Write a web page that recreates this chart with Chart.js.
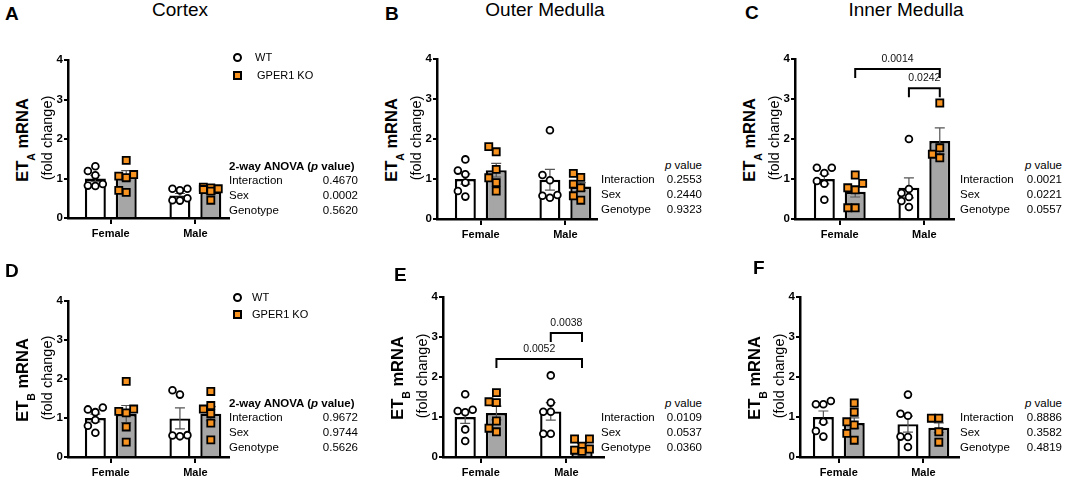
<!DOCTYPE html>
<html><head><meta charset="utf-8">
<script src="https://cdn.jsdelivr.net/npm/chart.js@4/dist/chart.umd.min.js"></script>
<style>
html,body{margin:0;padding:0;background:#fff;}
#fig{position:relative;width:1065px;height:481px;overflow:hidden;font-family:"Liberation Sans",Arial,Helvetica,sans-serif;color:#000;}
#fig canvas{position:absolute;z-index:1;}
.t{position:absolute;white-space:nowrap;line-height:1;z-index:2;color:#000;}
.mk{position:absolute;box-sizing:border-box;border:2px solid #000;z-index:2;}
</style></head><body><div id="fig"></div>
<script>
// ---------- data ----------
const groups = ['Female', 'Male'];
const seriesNames = ['WT', 'GPER1 KO'];
const yTicks = [0, 1, 2, 3, 4];
const anovaTerms = ['Interaction', 'Sex', 'Genotype'];

// A – Cortex, ETA
const A_wtMean = [1.00, 0.57], A_wtSem = [0.08, 0.05];
const A_koMean = [1.08, 0.66], A_koSem = [0.12, 0.06];
const A_wtFemale = [1.31, 1.19, 1.08, 0.81, 0.86, 0.82];
const A_wtMale   = [0.74, 0.74, 0.70, 0.44, 0.45, 0.50];
const A_koFemale = [1.46, 1.10, 1.06, 1.02, 0.65, 0.70];
const A_koMale   = [0.78, 0.76, 0.72, 0.68, 0.45, 0.74];
const A_p = ['0.4670', '0.0002', '0.5620'];

// B – Outer Medulla, ETA
const B_wtMean = [1.00, 0.98], B_wtSem = [0.13, 0.26];
const B_koMean = [1.22, 0.81], B_koSem = [0.17, 0.10];
const B_wtFemale = [1.21, 1.49, 1.12, 0.56, 0.91, 0.70];
const B_wtMale   = [2.22, 1.10, 0.97, 0.53, 0.60, 0.58];
const B_koFemale = [1.68, 1.24, 1.81, 1.03, 0.70, 0.91];
const B_koMale   = [1.04, 1.14, 0.78, 0.87, 0.47, 0.58];
const B_p = ['0.2553', '0.2440', '0.9323'];

// C – Inner Medulla, ETA
const C_wtMean = [1.00, 0.78], C_wtSem = [0.12, 0.25];
const C_koMean = [0.68, 1.95], C_koSem = [0.13, 0.33];
const C_wtFemale = [1.28, 1.15, 1.28, 0.95, 0.48, 0.88];
const C_wtMale   = [2.00, 0.75, 0.65, 0.55, 0.30, 0.45];
const C_koFemale = [1.10, 0.89, 0.73, 0.78, 0.28, 0.28];
const C_koMale   = [2.90, 1.78, 1.62, 1.53];
const C_p = ['0.0021', '0.0221', '0.0557'];
const C_brackets = [
  {a: [1, 0], b: [1, 1], y: 3.75, label: '0.0014'},
  {a: [0, 1], b: [1, 1], y: 3.27, label: '0.0242'}
];

// D – Cortex, ETB
const D_wtMean = [1.00, 0.99], D_wtSem = [0.10, 0.27];
const D_koMean = [1.10, 1.11], D_koSem = [0.22, 0.18];
const D_wtFemale = [1.27, 1.15, 1.22, 0.95, 0.80, 0.62];
const D_wtMale   = [1.71, 1.60, 0.55, 0.53, 0.56];
const D_koFemale = [1.94, 1.17, 1.23, 1.13, 0.77, 0.38];
const D_koMale   = [1.68, 1.32, 1.23, 1.11, 0.87, 0.44];
const D_p = ['0.9672', '0.9744', '0.5626'];

// E – Outer Medulla, ETB
const E_wtMean = [1.00, 1.14], E_wtSem = [0.16, 0.22];
const E_koMean = [1.10, 0.28], E_koSem = [0.17, 0.06];
const E_wtFemale = [1.57, 1.15, 1.18, 1.12, 0.69, 0.40];
const E_wtMale   = [2.04, 1.36, 1.13, 1.13, 0.58, 0.58];
const E_koFemale = [1.61, 1.38, 1.36, 0.90, 0.63, 0.72];
const E_koMale   = [0.45, 0.45, 0.27, 0.17, 0.20, 0.14];
const E_p = ['0.0109', '0.0537', '0.0360'];
const E_brackets = [
  {a: [1, 0], b: [1, 1], y: 2.45, label: '0.0052'},
  {a: [0, 1], b: [1, 1], y: 3.10, label: '0.0038'}
];

// F – Inner Medulla, ETB
const F_wtMean = [1.00, 0.82], F_wtSem = [0.15, 0.20];
const F_koMean = [0.85, 0.73], F_koSem = [0.13, 0.12];
const F_wtFemale = [1.32, 1.32, 1.40, 0.88, 0.51, 0.65];
const F_wtMale   = [1.56, 1.08, 1.03, 0.51, 0.50, 0.25];
const F_koFemale = [1.35, 1.12, 0.80, 0.88, 0.59, 0.42];
const F_koMale   = [0.97, 0.97, 0.63, 0.37];
const F_p = ['0.8886', '0.3582', '0.4819'];

// ---------- styles / layout ----------
const FF = '"Liberation Sans", Arial, Helvetica, sans-serif';
const ORANGE = '#f7931e';
const KO_FILL = '#a6a6a6';
const CAT_PCT = 0.73, BAR_PCT = 0.68;

const panels = [
  {letter:'A', title:'Cortex', sub:'A', means:[A_wtMean,A_koMean], sems:[A_wtSem,A_koSem],
   pts:[[A_wtFemale,A_wtMale],[A_koFemale,A_koMale]], p:A_p, brackets:[], legend:true, tableKind:'anova',
   g:{axisX:68,f:111,m:196,end:230,top:60,bottom:218}, letterPos:[5,13.5], titlePos:[180,9.5],
   table:{left:229,right:358,y:166}, legendPos:{x:237,y1:57,y2:75,t1:255,t2:257}},
  {letter:'B', title:'Outer Medulla', sub:'A', means:[B_wtMean,B_koMean], sems:[B_wtSem,B_koSem],
   pts:[[B_wtFemale,B_wtMale],[B_koFemale,B_koMale]], p:B_p, brackets:[], tableKind:'p',
   g:{axisX:437,f:481,m:566,end:598,top:59,bottom:219}, letterPos:[385,13.5], titlePos:[545,9.5],
   table:{left:601,right:702,y:165}},
  {letter:'C', title:'Inner Medulla', sub:'A', means:[C_wtMean,C_koMean], sems:[C_wtSem,C_koSem],
   pts:[[C_wtFemale,C_wtMale],[C_koFemale,C_koMale]], p:C_p, brackets:C_brackets, tableKind:'p',
   g:{axisX:795,f:840,m:925,end:955,top:59,bottom:219}, letterPos:[745,13], titlePos:[906,9.5],
   table:{left:960,right:1062,y:165}},
  {letter:'D', sub:'B', means:[D_wtMean,D_koMean], sems:[D_wtSem,D_koSem],
   pts:[[D_wtFemale,D_wtMale],[D_koFemale,D_koMale]], p:D_p, brackets:[], legend:true, tableKind:'anova',
   g:{axisX:68,f:111,m:196,end:230,top:301,bottom:457}, letterPos:[5,271],
   table:{left:229,right:358,y:403}, legendPos:{x:237,y1:297,y2:314,t1:252,t2:252}},
  {letter:'E', sub:'B', means:[E_wtMean,E_koMean], sems:[E_wtSem,E_koSem],
   pts:[[E_wtFemale,E_wtMale],[E_koFemale,E_koMale]], p:E_p, brackets:E_brackets, tableKind:'p',
   g:{axisX:443,f:481,m:567,end:605,top:297,bottom:457}, letterPos:[394,275],
   table:{left:601,right:702,y:403}},
  {letter:'F', sub:'B', means:[F_wtMean,F_koMean], sems:[F_wtSem,F_koSem],
   pts:[[F_wtFemale,F_wtMale],[F_koFemale,F_koMale]], p:F_p, brackets:[], tableKind:'p',
   g:{axisX:800,f:839,m:924,end:960,top:297,bottom:457}, letterPos:[753,268],
   table:{left:960,right:1062,y:403}}
];

const fig = document.getElementById('fig');

function txt(html, x, y, font, align, rot) {
  const d = document.createElement('div');
  d.className = 't';
  d.innerHTML = html;
  d.style.left = x + 'px';
  d.style.top = y + 'px';
  d.style.font = font;
  const ax = align === 'center' ? '-50%' : (align === 'right' ? '-100%' : '0');
  d.style.transform = 'translate(' + ax + ',-50%)' + (rot ? ' rotate(-90deg)' : '');
  fig.appendChild(d);
  return d;
}
function marker(x, y, kind) {
  const d = document.createElement('div');
  d.className = 'mk';
  const s = 9;
  d.style.width = s + 'px'; d.style.height = s + 'px';
  d.style.left = (x - s / 2) + 'px'; d.style.top = (y - s / 2) + 'px';
  if (kind === 'circle') { d.style.borderRadius = '50%'; d.style.background = '#fff'; }
  else { d.style.background = ORANGE; }
  fig.appendChild(d);
}

// compact beeswarm: three columns (left / centre / right) inside the bar
function swarm(vals, pxPerY, step) {
  const order = vals.map((v, i) => i).sort((a, b) => vals[a] - vals[b]);
  const placed = [], off = new Array(vals.length).fill(0);
  const cands = [0, -1, 1];
  order.forEach(i => {
    const y = vals[i] * pxPerY;
    let best = 0, bestD = -1;
    for (const k of cands) {
      const x = k * step;
      const d = placed.length ? Math.min(...placed.map(q => Math.hypot(q.x - x, q.y - y))) : 1e9;
      if (d >= step - 0.01) { best = x; bestD = 1e9; break; }
      if (d > bestD) { bestD = d; best = x; }
    }
    off[i] = best; placed.push({x: best, y});
  });
  return off;
}

const errorBarPlugin = {
  id: 'errorBars',
  afterDatasetDraw(chart, args) {
    const ds = chart.data.datasets[args.index];
    if (!ds.errors) return;
    const ys = chart.scales.y, ctx = chart.ctx;
    ctx.save();
    ctx.strokeStyle = '#555';
    ctx.lineWidth = 1.2;
    args.meta.data.forEach((bar, i) => {
      const m = ds.data[i].y, e = ds.errors[i];
      const yt = ys.getPixelForValue(m + e), yb = ys.getPixelForValue(m - e);
      const cx = bar.x, hw = 5;
      ctx.beginPath();
      ctx.moveTo(cx, yt); ctx.lineTo(cx, yb);
      ctx.moveTo(cx - hw, yt); ctx.lineTo(cx + hw, yt);
      ctx.moveTo(cx - hw, yb); ctx.lineTo(cx + hw, yb);
      ctx.stroke();
    });
    ctx.restore();
  }
};

function buildPanel(P) {
  const G = P.g, spacing = G.m - G.f;
  const xmin = (G.axisX - G.f) / spacing, xmax = (G.end - G.f) / spacing;
  const WY = 28, PT = 12, PR = 6, HX = 26;
  const plotW = G.end - G.axisX, plotH = G.bottom - G.top;
  const cw = WY + plotW + PR, ch = PT + plotH + HX;
  const cv = document.createElement('canvas');
  cv.width = cw; cv.height = ch;
  cv.style.left = (G.axisX - WY) + 'px';
  cv.style.top = (G.top - PT) + 'px';
  cv.style.width = cw + 'px';
  cv.style.height = ch + 'px';
  fig.appendChild(cv);

  const yMax = yTicks[yTicks.length - 1];
  const pxPerY = plotH / yMax;
  const half = CAT_PCT / 4;

  const barSets = [0, 1].map(s => ({
    type: 'bar', label: seriesNames[s], order: 2,
    data: groups.map((g, i) => ({x: i, y: P.means[s][i]})),
    errors: P.sems[s],
    backgroundColor: s ? KO_FILL : '#ffffff', borderColor: '#000', borderWidth: 2.4,
    categoryPercentage: CAT_PCT, barPercentage: BAR_PCT, borderSkipped: 'start'
  }));
  const ptSets = [0, 1].map(s => ({
    type: 'scatter', label: seriesNames[s] + ' points', order: 1,
    data: groups.flatMap((g, i) => {
      const vals = P.pts[s][i];
      const off = swarm(vals, pxPerY, 7.5);
      return vals.map((v, k) => ({x: i + (s ? half : -half) + off[k] / spacing, y: v}));
    }),
    pointStyle: s ? 'rect' : 'circle',
    pointRadius: s ? 5 : 3.4, pointHoverRadius: s ? 5 : 3.4,
    pointBorderWidth: 1.8, pointBackgroundColor: s ? ORANGE : '#ffffff', pointBorderColor: '#000'
  }));

  const bracketPlugin = {
    id: 'brackets' + P.letter,
    afterDatasetsDraw(chart) {
      const ctx = chart.ctx, ys = chart.scales.y;
      P.brackets.forEach(b => {
        const x1 = chart.getDatasetMeta(b.a[0]).data[b.a[1]].x;
        const x2 = chart.getDatasetMeta(b.b[0]).data[b.b[1]].x;
        const yy = ys.getPixelForValue(b.y), leg = 9;
        ctx.save();
        ctx.strokeStyle = '#000'; ctx.lineWidth = 2;
        ctx.beginPath();
        ctx.moveTo(x1, yy + leg); ctx.lineTo(x1, yy); ctx.lineTo(x2, yy); ctx.lineTo(x2, yy + leg);
        ctx.stroke();
        ctx.fillStyle = '#111';
        ctx.font = '10.5px ' + FF;
        ctx.textAlign = 'center'; ctx.textBaseline = 'middle';
        ctx.fillText(b.label, (x1 + x2) / 2, yy - 10);
        ctx.restore();
      });
    }
  };

  new Chart(cv, {
    type: 'bar',
    data: {datasets: [...barSets, ...ptSets]},
    options: {
      responsive: false, maintainAspectRatio: false, animation: false, devicePixelRatio: 1, events: [],
      layout: {padding: {top: PT, right: PR, left: 0, bottom: 0}},
      plugins: {legend: {display: false}, tooltip: {enabled: false}},
      scales: {
        x: {
          type: 'linear', min: xmin, max: xmax, offset: false,
          afterBuildTicks: s => { s.ticks = groups.map((g, i) => ({value: i})); },
          afterFit: s => { s.height = HX; },
          grid: {offset: false, drawOnChartArea: false, drawTicks: true, tickLength: 6, color: '#000', lineWidth: 2},
          border: {display: true, color: '#000', width: 2.5},
          ticks: {autoSkip: false, maxRotation: 0, padding: 3, color: '#000',
                  font: {family: FF, size: 11, weight: 'bold'},
                  callback: v => (groups[v] !== undefined ? groups[v] : '')}
        },
        y: {
          type: 'linear', min: yTicks[0], max: yMax,
          afterBuildTicks: s => { s.ticks = yTicks.map(v => ({value: v})); },
          afterFit: s => { s.width = WY; },
          grid: {drawOnChartArea: false, drawTicks: true, tickLength: 4, color: '#000', lineWidth: 2},
          border: {display: true, color: '#000', width: 2.5},
          ticks: {padding: 1, color: '#000', font: {family: FF, size: 11.5, weight: 'bold'}}
        }
      }
    },
    plugins: [errorBarPlugin, bracketPlugin]
  });

  // ---- text around the panel ----
  txt(P.letter, P.letterPos[0], P.letterPos[1], 'bold 19px ' + FF, 'left');
  if (P.title) txt(P.title, P.titlePos[0], P.titlePos[1], '19px ' + FF, 'center');
  const cy = (G.top + G.bottom) / 2;
  txt('ET<span style="font-size:10.5px;position:relative;top:7px">' + P.sub + '</span> mRNA',
      G.axisX - 46.5, cy + 1, 'bold 16.5px ' + FF, 'center', true);
  txt('(fold change)', G.axisX - 21.5, cy - 1, '14.5px ' + FF, 'center', true);

  const T = P.table, tf = '11.5px ' + FF;
  if (P.tableKind === 'anova') {
    txt('2-way ANOVA (<i>p</i> value)', T.left, T.y, 'bold 11.5px ' + FF, 'left');
  } else {
    txt('<i>p</i> value', T.right, T.y, tf, 'right');
  }
  anovaTerms.forEach((term, i) => {
    const ry = T.y + 14 + i * 15;
    txt(term, T.left, ry, tf, 'left');
    txt(P.p[i], T.right, ry, tf, 'right');
  });

  if (P.legend) {
    const L = P.legendPos;
    marker(L.x, L.y1, 'circle');
    txt(seriesNames[0], L.t1, L.y1, '11px ' + FF, 'left');
    marker(L.x, L.y2, 'square');
    txt(seriesNames[1], L.t2, L.y2, '11px ' + FF, 'left');
  }
}

panels.forEach(buildPanel);
</script>
</body></html>
